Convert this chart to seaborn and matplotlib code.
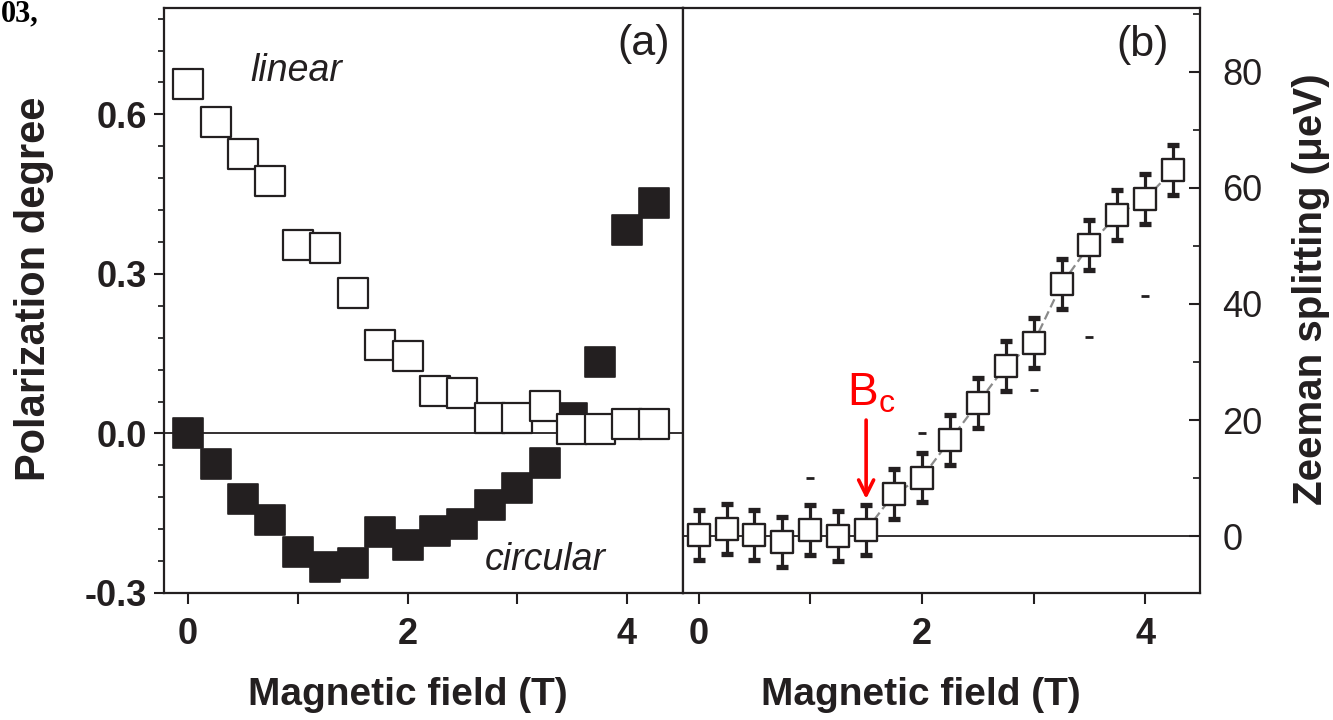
import numpy as np
import pandas as pd
import matplotlib
matplotlib.use("Agg")
import matplotlib.pyplot as plt
from matplotlib.ticker import MultipleLocator
import seaborn as sns

# ---------------- data ----------------
field_a = [0.0, 0.25, 0.5, 0.75, 1.0, 1.25, 1.5, 1.75, 2.0, 2.25, 2.5, 2.75, 3.0, 3.25, 3.5, 3.75, 4.0, 4.25]
linear_pol = [0.658, 0.585, 0.525, 0.474, 0.355, 0.348, 0.265, 0.166, 0.145, 0.079, 0.077, 0.030,
              0.030, 0.051, 0.008, 0.008, 0.017, 0.017]
circular_pol = [0.0, -0.058, -0.124, -0.162, -0.222, -0.252, -0.243, -0.186, -0.209, -0.184, -0.171,
                -0.134, -0.102, -0.055, 0.030, 0.135, 0.382, 0.434]

field_b = [0.0, 0.25, 0.5, 0.75, 1.0, 1.25, 1.5, 1.75, 2.0, 2.25, 2.5, 2.75, 3.0, 3.25, 3.5, 3.75, 4.0, 4.25]
zeeman = [0.2, 1.2, 0.2, -1.0, 1.0, 0.0, 1.0, 7.3, 10.1, 16.5, 22.9, 29.3, 33.3, 43.4, 50.1, 55.4, 58.1, 63.1]
zeeman_err = [4.3] * 18
aux_field = [1.0, 2.0, 3.0, 3.5, 4.0]
aux_val = [10.1, 17.8, 25.2, 34.3, 41.3]
bc_field = 1.5

df_a = pd.DataFrame({"B": field_a, "linear": linear_pol, "circular": circular_pol})
df_b = pd.DataFrame({"B": field_b, "Z": zeeman, "err": zeeman_err})
df_aux = pd.DataFrame({"B": aux_field, "Z": aux_val})

# ---------------- style ----------------
sns.set_theme(style="white")
plt.rcParams["font.family"] = ["Liberation Sans", "DejaVu Sans"]
plt.rcParams["mathtext.default"] = "regular"
INK = "#231f20"

fig = plt.figure(figsize=(13.33, 7.2), dpi=100)
W, H = 1333, 720
left_a, mid, right_b = 164 / W, 683 / W, 1200 / W
bottom, top = 1 - 593 / H, 1 - 8 / H
ax1 = fig.add_axes([left_a, bottom, mid - left_a, top - bottom])
ax2 = fig.add_axes([mid, bottom, right_b - mid, top - bottom])

for ax in (ax1, ax2):
    for sp in ax.spines.values():
        sp.set_linewidth(1.6)
        sp.set_color(INK)
        sp.set_visible(True)

# ---------------- panel (a) ----------------
ax1.axhline(0, color=INK, lw=1.3, zorder=1)
sns.scatterplot(data=df_a, x="B", y="circular", ax=ax1, marker="s", s=480,
                color=INK, edgecolor=INK, linewidth=1.2, zorder=3, legend=False)
sns.scatterplot(data=df_a, x="B", y="linear", ax=ax1, marker="s", s=440,
                facecolor="white", edgecolor=INK, linewidth=1.6, zorder=4, legend=False)
ax1.set_xlim(-0.22, 4.51)
ax1.set_ylim(-0.3, 0.80)
ax1.yaxis.set_major_locator(MultipleLocator(0.3))
ax1.yaxis.set_minor_locator(MultipleLocator(0.06))
ax1.xaxis.set_major_locator(MultipleLocator(2))
ax1.xaxis.set_minor_locator(MultipleLocator(1))
ax1.set_yticks([-0.3, 0.0, 0.3, 0.6])
ax1.set_yticklabels(["-0.3", "0.0", "0.3", "0.6"])
ax1.tick_params(axis="y", which="major", direction="out", length=7, width=1.5, pad=5,
                labelsize=26, colors=INK, left=True)
ax1.tick_params(axis="y", which="minor", direction="out", length=4, width=1.3, left=True)
ax1.tick_params(axis="x", which="both", direction="out", length=8, width=1.5, pad=9,
                labelsize=26, colors=INK, bottom=True)
for lab in ax1.get_xticklabels() + ax1.get_yticklabels():
    lab.set_fontweight("bold")
ax1.set_xlabel("Magnetic field (T)", fontsize=28, fontweight="bold", color=INK)
ax1.set_ylabel("Polarization degree", fontsize=30, fontweight="bold", color=INK)
ax1.xaxis.set_label_coords(0.47, -0.143)
ax1.yaxis.set_label_coords(-0.212, 0.52)
ax1.text(0.565, 0.662, "linear", style="italic", fontsize=27, color=INK, ha="left", va="baseline")
ax1.text(2.70, -0.256, "circular", style="italic", fontsize=27, color=INK, ha="left", va="baseline")
ax1.text(4.39, 0.732, "(a)", fontsize=31, color=INK, ha="right", va="center")

# ---------------- panel (b) ----------------
ax2.axhline(0, color=INK, lw=1.3, zorder=1)
fit = df_b[df_b["B"] >= bc_field]
sns.lineplot(data=fit, x="B", y="Z", ax=ax2, color="#8a8a8a", lw=1.6,
             linestyle=(0, (4, 2)), zorder=2, legend=False)
ax2.errorbar(df_b["B"], df_b["Z"], yerr=df_b["err"], fmt="none", ecolor=INK,
             elinewidth=2.3, capsize=4.5, capthick=3.8, zorder=3)
sns.scatterplot(data=df_b, x="B", y="Z", ax=ax2, marker="s", s=250,
                facecolor="white", edgecolor=INK, linewidth=1.7, zorder=4, legend=False)
sns.scatterplot(data=df_aux, x="B", y="Z", ax=ax2, marker="_", s=40,
                color=INK, linewidth=2, zorder=4, legend=False)
ax2.set_xlim(-0.14, 4.49)
ax2.set_ylim(-9.8, 91)
ax2.yaxis.tick_right()
ax2.yaxis.set_label_position("right")
ax2.yaxis.set_major_locator(MultipleLocator(20))
ax2.yaxis.set_minor_locator(MultipleLocator(10))
ax2.set_yticks([0, 20, 40, 60, 80])
ax2.xaxis.set_major_locator(MultipleLocator(2))
ax2.xaxis.set_minor_locator(MultipleLocator(1))
ax2.tick_params(axis="y", which="major", direction="in", length=8, width=1.5, pad=16,
                labelsize=26, colors=INK, right=True, left=False)
ax2.tick_params(axis="y", which="minor", direction="in", length=5, width=1.3, right=True, left=False)
ax2.tick_params(axis="x", which="both", direction="out", length=8, width=1.5, pad=9,
                labelsize=26, colors=INK, bottom=True)
for lab in ax2.get_xticklabels():
    lab.set_fontweight("bold")
ax2.set_xlabel("Magnetic field (T)", fontsize=28, fontweight="bold", color=INK)
ax2.set_ylabel("Zeeman splitting (\u03bceV)", fontsize=29, fontweight="bold", color=INK,
               rotation=90)
ax2.xaxis.set_label_coords(0.46, -0.143)
ax2.yaxis.set_label_coords(1.178, 0.52)
ax2.text(4.21, 84.6, "(b)", fontsize=31, color=INK, ha="right", va="center")

# B_c marker
ax2.annotate("", xy=(bc_field, 6.4), xytext=(bc_field, 20.0),
             arrowprops=dict(arrowstyle="->,head_length=0.9,head_width=0.45",
                             color="red", lw=2.6, shrinkA=0, shrinkB=0))
ax2.text(1.33, 22.5, "$B_c$", fontsize=33, color="red", ha="left", va="baseline")

# header fragment at top-left
fig.text(0.001, 1 - 21 / H, "03,", fontsize=22, fontweight="bold",
         family=["Liberation Serif", "DejaVu Serif"], color="black", ha="left", va="baseline")

fig.savefig("out.png", dpi=100)
